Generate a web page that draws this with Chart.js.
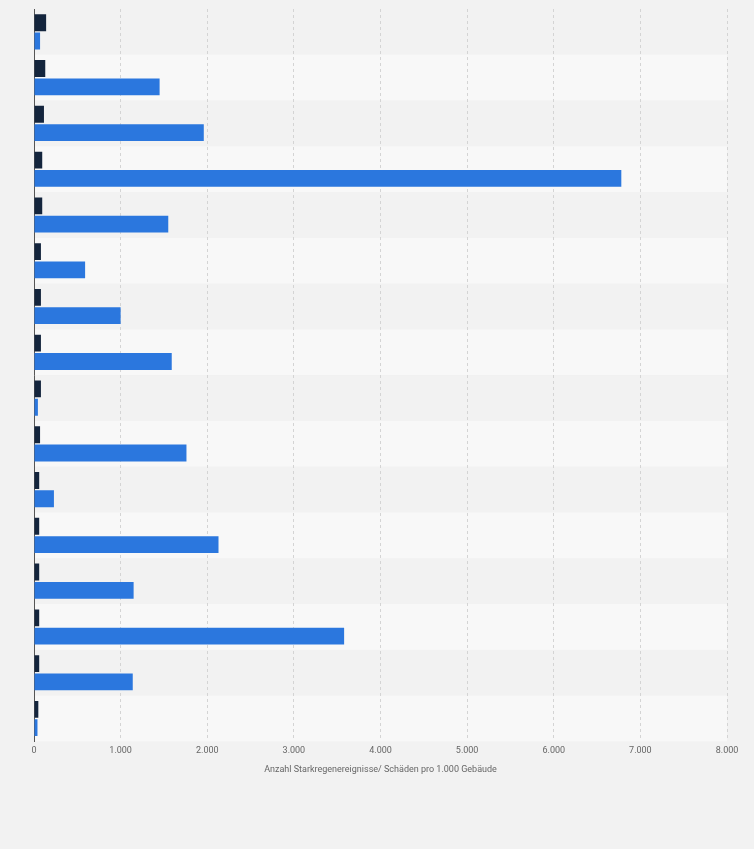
<!DOCTYPE html>
<html>
<head>
<meta charset="utf-8">
<script src="https://cdn.jsdelivr.net/npm/chart.js@4"></script>
<style>
  html, body { margin: 0; padding: 0; background: #f2f2f2; }
  #wrap { width: 754px; height: 849px; position: relative; }
</style>
</head>
<body>
<div id="wrap"><canvas id="c" width="754" height="849"></canvas></div>
<script>
// Kategorien (im Original ohne sichtbare Beschriftung)
const categories = ['1','2','3','4','5','6','7','8','9','10','11','12','13','14','15','16'];
const events = [140, 130, 115, 95, 95, 80, 80, 80, 80, 70, 60, 60, 60, 60, 60, 50];
const damages = [70, 1450, 1960, 6780, 1550, 590, 1000, 1590, 45, 1760, 230, 2130, 1150, 3580, 1140, 40];
const xTicks = [0, 1000, 2000, 3000, 4000, 5000, 6000, 7000, 8000];

// Abwechselnde Hintergrundstreifen je Kategorie
const bands = {
  id: 'bands',
  beforeDraw(chart) {
    const { ctx, chartArea: a, scales: { y } } = chart;
    const step = y.getPixelForValue(1) - y.getPixelForValue(0);
    ctx.save();
    categories.forEach((c, i) => {
      const mid = y.getPixelForValue(i);
      ctx.fillStyle = i % 2 === 0 ? '#f2f2f2' : '#f8f8f8';
      ctx.fillRect(a.left, mid - step / 2, a.right - a.left, step);
    });
    ctx.restore();
  }
};

new Chart(document.getElementById('c'), {
  type: 'bar',
  data: {
    labels: categories,
    datasets: [
      { label: 'Starkregenereignisse', data: events, backgroundColor: '#14253d', barPercentage: 0.92, categoryPercentage: 0.8 },
      { label: 'Schäden pro 1.000 Gebäude', data: damages, backgroundColor: '#2b77de', barPercentage: 0.92, categoryPercentage: 0.8 }
    ]
  },
  options: {
    indexAxis: 'y',
    responsive: false,
    animation: false,
    layout: { padding: { left: 26, right: 27, top: 9, bottom: 70 } },
    plugins: { legend: { display: false }, tooltip: { enabled: false } },
    scales: {
      x: {
        min: 0, max: 8000,
        afterBuildTicks: s => { s.ticks = xTicks.map(v => ({ value: v })); },
        ticks: {
          color: '#666', font: { family: 'Roboto', size: 9 }, padding: 4,
          callback: v => v.toLocaleString('de-DE')
        },
        grid: { color: '#d4d4d4', drawTicks: false },
        border: { display: false, dash: [3, 3] },
        title: {
          display: true, text: 'Anzahl Starkregenereignisse/ Schäden pro 1.000 Gebäude',
          color: '#666', font: { family: 'Roboto', size: 9 }, padding: { top: 4 }
        }
      },
      y: {
        ticks: { display: false },
        grid: { display: false },
        border: { display: true, color: '#555', width: 1 }
      }
    }
  },
  plugins: [bands]
});
</script>
</body>
</html>
